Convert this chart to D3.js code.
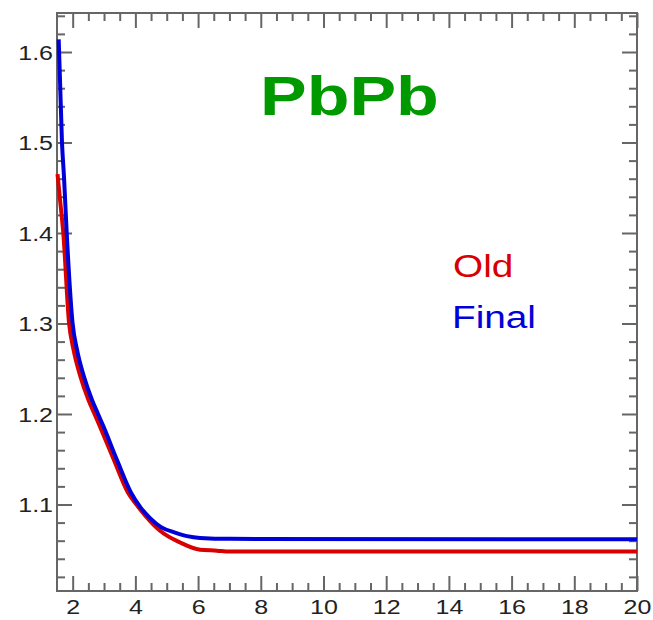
<!DOCTYPE html>
<html>
<head>
<meta charset="utf-8">
<script src="https://cdn.jsdelivr.net/npm/d3@7"></script>
<style>
    body { margin: 0; background: #fff; }
    svg text { font-family: "Liberation Sans", Arial, Helvetica, sans-serif; }
</style>
</head>
<body>
<svg id="chart" width="653" height="620"></svg>
<script>
// Curve values
const oldX   = [1.516, 1.596, 1.701, 1.883, 2.027, 2.250, 2.505, 2.697, 2.872, 3.319, 3.766, 4.053, 4.309, 4.787, 5.426, 6.064, 6.600, 7.000, 20];
const oldY   = [1.465, 1.437, 1.400, 1.301, 1.271, 1.241, 1.2155, 1.200, 1.186, 1.149, 1.113, 1.099, 1.088, 1.071, 1.058, 1.0500, 1.0490, 1.048, 1.048];
const finalX = [1.554, 1.660, 1.723, 1.810, 1.995, 2.138, 2.362, 2.617, 2.809, 2.984, 3.415, 3.862, 4.181, 4.468, 4.819, 5.266, 5.649, 6.064, 7.022, 20];
const finalY = [1.614, 1.499, 1.462, 1.400, 1.301, 1.271, 1.241, 1.2155, 1.200, 1.186, 1.149, 1.113, 1.096, 1.085, 1.075, 1.069, 1.065, 1.063, 1.062, 1.0615];

const xMajor = [2, 4, 6, 8, 10, 12, 14, 16, 18, 20];
const yMajor = [1.1, 1.2, 1.3, 1.4, 1.5, 1.6];
const legendLabels = ['Old', 'Final'];
const title = 'PbPb';

const sx = 1.25; // picture text is stretched sideways
const frame = { left: 57, top: 13, right: 637, bottom: 591 };
const svg = d3.select('#chart');

const x = d3.scaleLinear().domain([1.5, 20]).range([frame.left, frame.right]);
const y = d3.scaleLinear().domain([1.0044, 1.6431]).range([frame.bottom, frame.top]);

const xMinor = d3.range(2, 20, 0.5).filter(v => v % 2 !== 0);
const yMinor = d3.range(1.02, 1.65, 0.02).filter(v => Math.abs(v * 10 - Math.round(v * 10)) > 0.01);

function styleAxis(g) {
    g.select('.domain').remove();
    g.selectAll('line').attr('stroke', '#666').attr('stroke-width', 2);
    g.selectAll('text').attr('fill', '#222').style('font-size', '20px');
}

// bottom
svg.append('g').attr('transform', `translate(0,${frame.bottom})`)
    .call(d3.axisBottom(x).tickValues(xMinor).tickSize(-8).tickSizeOuter(0).tickFormat(''))
    .call(styleAxis);
svg.append('g').attr('transform', `translate(0,${frame.bottom})`)
    .call(d3.axisBottom(x).tickValues(xMajor).tickSize(-15).tickSizeOuter(0).tickPadding(9).tickFormat(d3.format('d')))
    .call(styleAxis)
    .selectAll('text').attr('transform', `scale(${sx},1)`);
// top
svg.append('g').attr('transform', `translate(0,${frame.top})`)
    .call(d3.axisTop(x).tickValues(xMinor).tickSize(-8).tickSizeOuter(0).tickFormat(''))
    .call(styleAxis);
svg.append('g').attr('transform', `translate(0,${frame.top})`)
    .call(d3.axisTop(x).tickValues(xMajor).tickSize(-15).tickSizeOuter(0).tickFormat(''))
    .call(styleAxis);
// left
svg.append('g').attr('transform', `translate(${frame.left},0)`)
    .call(d3.axisLeft(y).tickValues(yMinor).tickSize(-8).tickSizeOuter(0).tickFormat(''))
    .call(styleAxis);
svg.append('g').attr('transform', `translate(${frame.left},0)`)
    .call(d3.axisLeft(y).tickValues(yMajor).tickSize(-15).tickSizeOuter(0).tickFormat(d3.format('.1f')))
    .call(styleAxis)
    .selectAll('text')
    .attr('x', -4 / sx)
    .attr('dy', '0.37em')
    .attr('transform', `scale(${sx},1)`);
// right
svg.append('g').attr('transform', `translate(${frame.right},0)`)
    .call(d3.axisRight(y).tickValues(yMinor).tickSize(-8).tickSizeOuter(0).tickFormat(''))
    .call(styleAxis);
svg.append('g').attr('transform', `translate(${frame.right},0)`)
    .call(d3.axisRight(y).tickValues(yMajor).tickSize(-15).tickSizeOuter(0).tickFormat(''))
    .call(styleAxis);

// frame
svg.append('rect')
    .attr('x', frame.left).attr('y', frame.top)
    .attr('width', frame.right - frame.left)
    .attr('height', frame.bottom - frame.top)
    .attr('fill', 'none')
    .attr('stroke', '#666')
    .attr('stroke-width', 2);

// curves
const line = d3.line()
    .x(d => x(d[0]))
    .y(d => y(d[1]))
    .curve(d3.curveMonotoneX);

const series = [
    { name: legendLabels[0], xs: oldX, ys: oldY, color: '#d80000' },
    { name: legendLabels[1], xs: finalX, ys: finalY, color: '#0000d8' }
];

svg.append('g')
    .selectAll('path')
    .data(series)
    .enter()
    .append('path')
    .attr('d', s => line(s.xs.map((v, i) => [v, s.ys[i]])))
    .attr('fill', 'none')
    .attr('stroke', s => s.color)
    .attr('stroke-width', 4)
    .attr('stroke-linejoin', 'round');

// title
svg.append('text')
    .attr('transform', `translate(260,115) scale(${sx},1)`)
    .attr('fill', '#009a00')
    .style('font-size', '56px')
    .style('font-weight', 'bold')
    .text(title);

// legend
const legendPos = [[453, 277], [452, 328]];
svg.append('g')
    .selectAll('text')
    .data(series)
    .enter()
    .append('text')
    .attr('transform', (s, i) => `translate(${legendPos[i][0]},${legendPos[i][1]}) scale(${sx},1)`)
    .attr('fill', s => s.color)
    .style('font-size', '31px')
    .text(s => s.name);
</script>
</body>
</html>
